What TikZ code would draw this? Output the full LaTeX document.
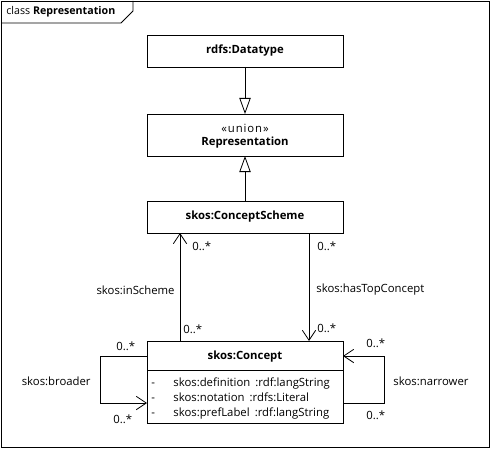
\documentclass[tikz,border=0pt]{standalone}
\usepackage{fontspec}
\setmainfont{Open Sans}
\usetikzlibrary{arrows.meta,calc,positioning}

\tikzset{
    classbox/.style={draw, fill=white, minimum width=147pt, minimum height=24pt,
        inner sep=0pt, outer sep=0pt, font=\fontsize{8.5}{10}\selectfont\bfseries},
    gen/.style={-{Triangle[open, length=12pt, width=8.5pt]}},
    assoc/.style={-{Straight Barb[length=7.5pt, width=10pt]}},
    lbl/.style={inner sep=0pt},
}

\begin{document}
\begin{tikzpicture}[x=0.75pt, y=-0.75pt, line width=0.6pt, font=\fontsize{8.5}{10}\selectfont]
    \useasboundingbox (0,0) rectangle (491,449);

    % Drawing the frame and its tab
    \draw (1,1) rectangle (489,447);
    \draw (1,23) -- (121,23) -- (133,11) -- (133,1);
    \node[lbl, anchor=west, font=\fontsize{8}{10}\selectfont] (title) at (6,12) {class \textbf{Representation}};

    % Drawing the classes
    \node[classbox] (datatype) at (245,51) {rdfs:Datatype};
    \node[classbox, minimum height=31.5pt] (repr) at (245,135) {};
    \node[lbl] (stereo) at (245,128) {\addfontfeature{LetterSpace=8}«union»};
    \node[lbl, font=\fontsize{8.5}{10}\selectfont\bfseries] (reprname) at (245,143) {Representation};
    \node[classbox] (scheme) at (245,217) {skos:ConceptScheme};
    \node[classbox, minimum height=61.5pt] (concept) at (245,382) {};
    \node[lbl, font=\fontsize{8.5}{10}\selectfont\bfseries] (conceptname) at (245,357) {skos:Concept};
    \draw ($(concept.north west)+(0,29)$) -- ($(concept.north east)+(0,29)$);

    % Attributes of skos:Concept
    \foreach \i/\prop/\type in {0/definition/rdf:langString, 1/notation/rdfs:Literal, 2/prefLabel/rdf:langString} {
        \node[lbl, anchor=base west] (dash\i) at (151,386+15*\i) {-};
        \node[lbl, anchor=base west] (attr\i) at (173,386+15*\i) {skos:\prop\hspace{0.45em}:\type};
    }

    % Generalizations
    \draw[gen] (datatype) -- (repr);
    \draw[gen] (scheme) -- (repr);

    % skos:inScheme and skos:hasTopConcept
    \coordinate (inS) at ($(concept.north west)+(33,0)$);
    \coordinate (inT) at ($(scheme.south west)+(33,0)$);
    \coordinate (topS) at ($(scheme.south east)+(-34,0)$);
    \coordinate (topT) at ($(concept.north east)+(-34,0)$);
    \draw[assoc] (inS) -- (inT);
    \draw[assoc] (topS) -- (topT);
    \node[lbl, anchor=west] (m1) at (192,246) {0..*};
    \node[lbl, anchor=west] (m2) at (183,329) {0..*};
    \node[lbl, anchor=east] (inscheme) at (175,290) {skos:inScheme};
    \node[lbl, anchor=west] (m3) at (317,246) {0..*};
    \node[lbl, anchor=west] (m4) at (317,328) {0..*};
    \node[lbl, anchor=west] (hastop) at (316,290) {skos:hasTopConcept};

    % skos:broader and skos:narrower
    \coordinate (brS) at ($(concept.north west)+(0,15)$);
    \coordinate (brT) at ($(concept.south west)+(0,-20)$);
    \coordinate (naS) at ($(concept.south east)+(0,-20)$);
    \coordinate (naT) at ($(concept.north east)+(0,15)$);
    \draw[assoc] (brS) -- ++(-47,0) |- (brT);
    \draw[assoc] (naS) -- ++(41,0) |- (naT);
    \node[lbl, anchor=west] (m5) at (116,346) {0..*};
    \node[lbl, anchor=west] (m6) at (113,419) {0..*};
    \node[lbl, anchor=east] (broader) at (91,381) {skos:broader};
    \node[lbl, anchor=west] (m7) at (366,343) {0..*};
    \node[lbl, anchor=west] (m8) at (366,415) {0..*};
    \node[lbl, anchor=west] (narrower) at (393,381) {skos:narrower};
\end{tikzpicture}
\end{document}
